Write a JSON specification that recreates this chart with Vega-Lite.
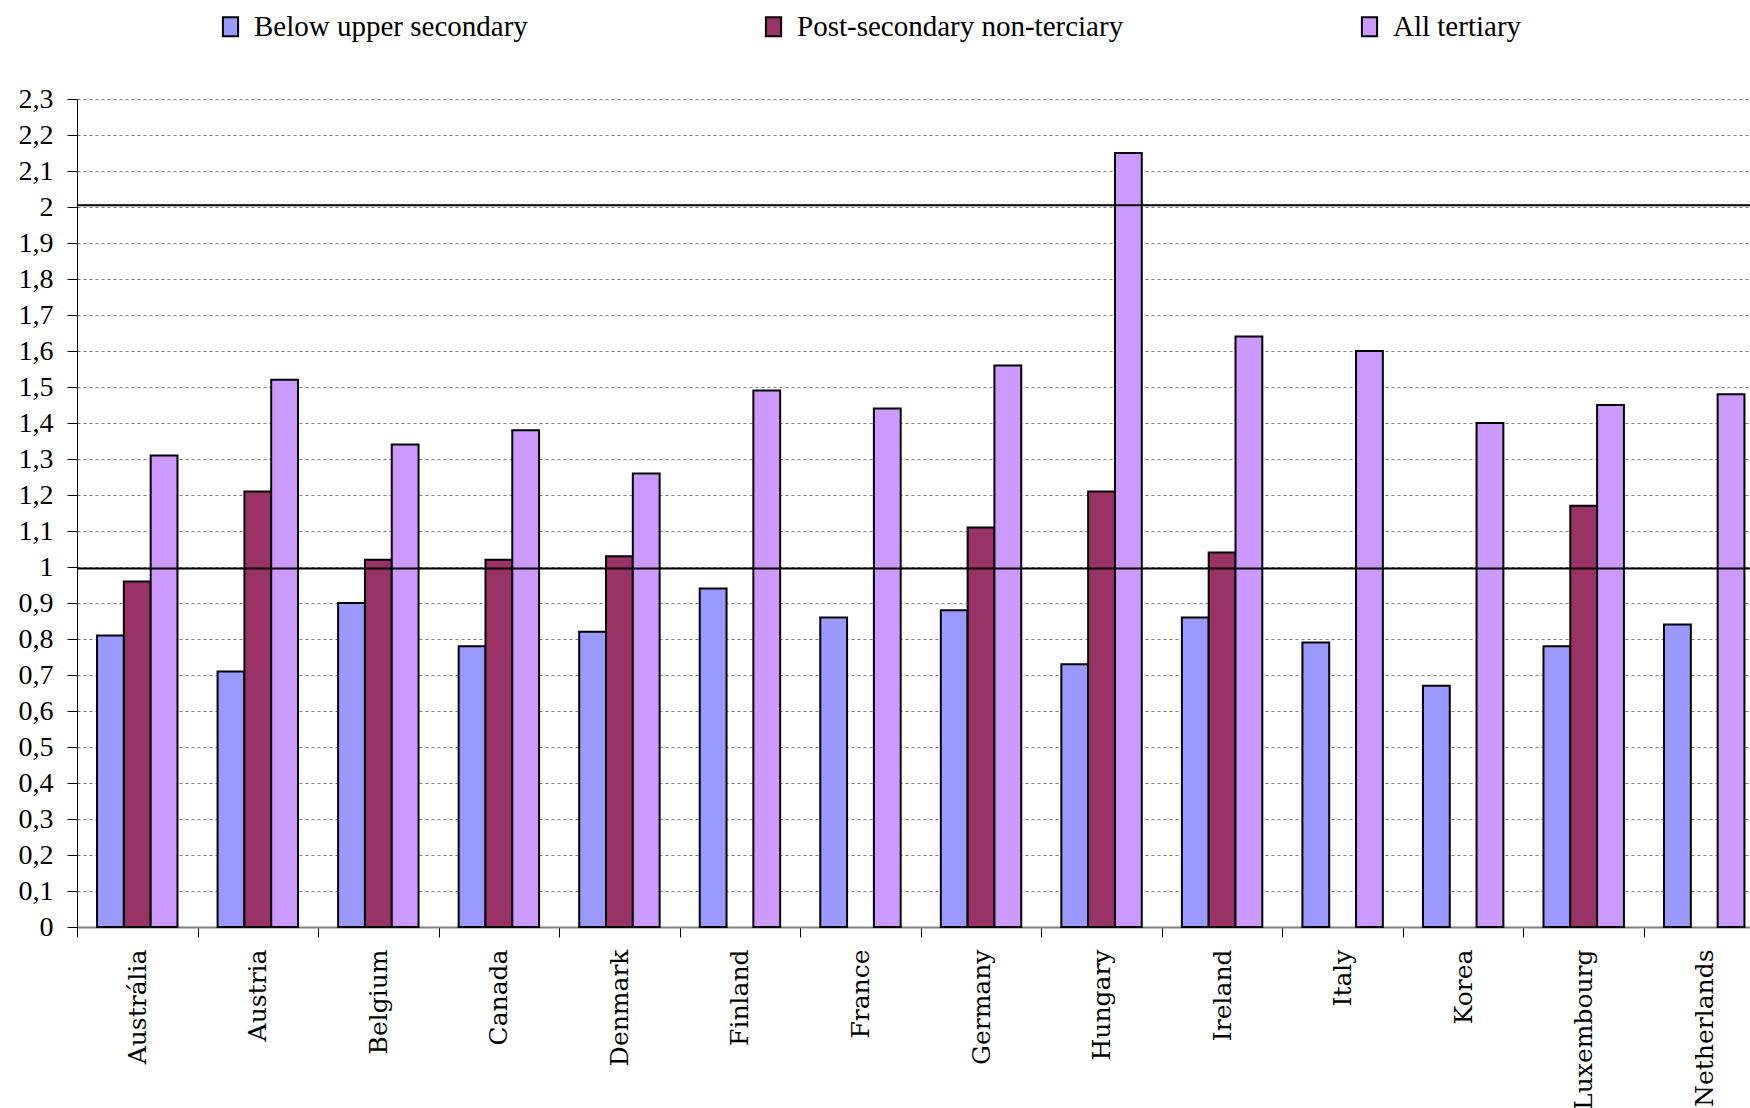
{
  "$schema": "https://vega.github.io/schema/vega-lite/v6.json",
  "width": 1673,
  "height": 828,
  "autosize": {"type": "none"},
  "padding": {"left": 77, "top": 99, "right": 0, "bottom": 181},
  "background": "white",
  "config": {"view": {"stroke": null}},
  "data": {
    "values": [
      {"country": "Austrália", "level": "Below upper secondary", "value": 0.81},
      {"country": "Austrália", "level": "Post-secondary non-terciary", "value": 0.96},
      {"country": "Austrália", "level": "All tertiary", "value": 1.31},
      {"country": "Austria", "level": "Below upper secondary", "value": 0.71},
      {"country": "Austria", "level": "Post-secondary non-terciary", "value": 1.21},
      {"country": "Austria", "level": "All tertiary", "value": 1.52},
      {"country": "Belgium", "level": "Below upper secondary", "value": 0.90},
      {"country": "Belgium", "level": "Post-secondary non-terciary", "value": 1.02},
      {"country": "Belgium", "level": "All tertiary", "value": 1.34},
      {"country": "Canada", "level": "Below upper secondary", "value": 0.78},
      {"country": "Canada", "level": "Post-secondary non-terciary", "value": 1.02},
      {"country": "Canada", "level": "All tertiary", "value": 1.38},
      {"country": "Denmark", "level": "Below upper secondary", "value": 0.82},
      {"country": "Denmark", "level": "Post-secondary non-terciary", "value": 1.03},
      {"country": "Denmark", "level": "All tertiary", "value": 1.26},
      {"country": "Finland", "level": "Below upper secondary", "value": 0.94},
      {"country": "Finland", "level": "All tertiary", "value": 1.49},
      {"country": "France", "level": "Below upper secondary", "value": 0.86},
      {"country": "France", "level": "All tertiary", "value": 1.44},
      {"country": "Germany", "level": "Below upper secondary", "value": 0.88},
      {"country": "Germany", "level": "Post-secondary non-terciary", "value": 1.11},
      {"country": "Germany", "level": "All tertiary", "value": 1.56},
      {"country": "Hungary", "level": "Below upper secondary", "value": 0.73},
      {"country": "Hungary", "level": "Post-secondary non-terciary", "value": 1.21},
      {"country": "Hungary", "level": "All tertiary", "value": 2.15},
      {"country": "Ireland", "level": "Below upper secondary", "value": 0.86},
      {"country": "Ireland", "level": "Post-secondary non-terciary", "value": 1.04},
      {"country": "Ireland", "level": "All tertiary", "value": 1.64},
      {"country": "Italy", "level": "Below upper secondary", "value": 0.79},
      {"country": "Italy", "level": "All tertiary", "value": 1.60},
      {"country": "Korea", "level": "Below upper secondary", "value": 0.67},
      {"country": "Korea", "level": "All tertiary", "value": 1.40},
      {"country": "Luxembourg", "level": "Below upper secondary", "value": 0.78},
      {"country": "Luxembourg", "level": "Post-secondary non-terciary", "value": 1.17},
      {"country": "Luxembourg", "level": "All tertiary", "value": 1.45},
      {"country": "Netherlands", "level": "Below upper secondary", "value": 0.84},
      {"country": "Netherlands", "level": "All tertiary", "value": 1.48}
    ]
  },
  "layer": [
    {
      "mark": {"type": "bar", "stroke": "black", "strokeWidth": 2},
      "encoding": {
        "x": {
          "field": "country",
          "type": "nominal",
          "sort": null,
          "scale": {"range": [0, 1687.5], "paddingInner": 0, "paddingOuter": 0},
          "axis": {
            "title": null,
            "tickBand": "extent",
            "labelAngle": -90,
            "labelAlign": "right",
            "labelBaseline": "middle",
            "labelFont": "DejaVu Serif",
            "labelFontSize": 25,
            "labelColor": "black",
            "labelPadding": 12,
            "labelOverlap": false,
            "tickSize": 10,
            "tickColor": "black",
            "tickWidth": 1,
            "domainColor": "#808080",
            "domainWidth": 2,
            "grid": false
          }
        },
        "xOffset": {
          "field": "level",
          "type": "nominal",
          "scale": {
            "domain": ["Below upper secondary", "Post-secondary non-terciary", "All tertiary"],
            "paddingInner": 0,
            "paddingOuter": 0.748
          }
        },
        "y": {
          "field": "value",
          "type": "quantitative",
          "scale": {"domain": [0, 2.3], "nice": false, "zero": true},
          "axis": {
            "title": null,
            "values": [0, 0.1, 0.2, 0.3, 0.4, 0.5, 0.6, 0.7, 0.8, 0.9, 1, 1.1, 1.2, 1.3, 1.4, 1.5, 1.6, 1.7, 1.8, 1.9, 2, 2.1, 2.2, 2.3],
            "tickCount": 40,
            "labelExpr": "replace(format(datum.value, '.1~f'), '.', ',')",
            "labelFont": "Liberation Serif",
            "labelFontSize": 28,
            "labelColor": "black",
            "labelPadding": 14,
            "labelOverlap": false,
            "labelBound": false,
            "labelFlush": false,
            "tickSize": 10,
            "tickColor": "black",
            "domainColor": "black",
            "domainWidth": 1,
            "grid": true,
            "gridColor": "#808080",
            "gridDash": [3, 3],
            "gridWidth": 1
          }
        },
        "color": {
          "field": "level",
          "type": "nominal",
          "scale": {
            "domain": ["Below upper secondary", "Post-secondary non-terciary", "All tertiary"],
            "range": ["#9999FF", "#993366", "#CC99FF"]
          },
          "legend": {
            "title": null,
            "orient": "none",
            "legendX": 139,
            "legendY": -87,
            "direction": "horizontal",
            "columns": 3,
            "columnPadding": 231,
            "padding": 0,
            "symbolType": "M-0.8,-1H0.8V1H-0.8Z",
            "symbolSize": 361,
            "symbolStrokeColor": "black",
            "symbolStrokeWidth": 2,
            "symbolOpacity": 1,
            "labelFont": "Liberation Serif",
            "labelFontSize": 29,
            "labelColor": "black",
            "labelOffset": 9,
            "labelLimit": 0
          }
        }
      }
    },
    {
      "data": {"values": [{"ref": 0.996}, {"ref": 2.005}]},
      "mark": {"type": "rule", "color": "black", "strokeWidth": 2},
      "encoding": {
        "y": {"field": "ref", "type": "quantitative"}
      }
    }
  ]
}
